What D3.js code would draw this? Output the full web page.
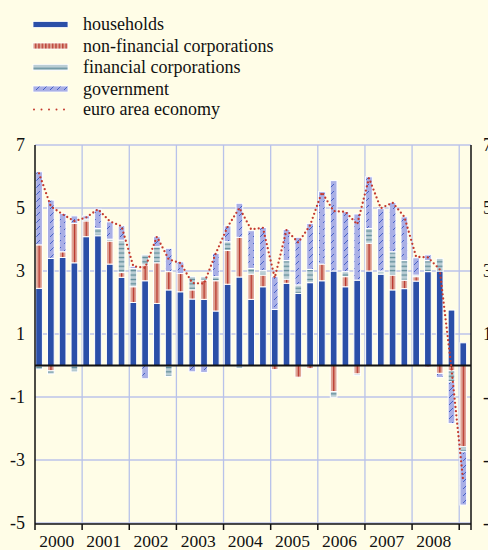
<!DOCTYPE html>
<meta charset="utf-8">
<script src="https://d3js.org/d3.v7.min.js"></script>
<style>
  body { margin: 0; background: #fffde7; }
  text { font-family: "Liberation Serif", "Times New Roman", serif; fill: #111; }
</style>
<div id="chart"></div>
<script>
// categories
const years = ["2000", "2001", "2002", "2003", "2004", "2005", "2006", "2007", "2008"];
const quarters = years.flatMap(yr => ["Q1", "Q2", "Q3", "Q4"].map(q => yr + q)).concat(["2009Q1"]);

// contributions, percentage points
const households   = [2.45, 3.40, 3.43, 3.26, 4.09, 4.12, 3.22, 2.80, 2.00, 2.69, 1.97, 2.40, 2.34,
                      2.11, 2.10, 1.73, 2.58, 2.81, 2.10, 2.50, 1.78, 2.61, 2.29, 2.63, 2.69,
                      3.00, 2.50, 2.71, 3.00, 2.90, 2.40, 2.44, 2.68, 2.98, 3.00, 1.76, 0.72];
const nonFinancial = [1.38, -0.17, 0.18, 1.25, 0.50, 0.00, 0.73, 0.15, 0.50, 0.50, 1.29, 0.58, 0.58,
                      0.29, 0.61, 0.96, 1.07, 1.26, 0.80, 0.37, -0.13, 0.13, -0.37, -0.10, 0.53,
                      -0.83, 0.32, -0.27, 0.88, 0.00, 0.47, 0.27, 0.14, -0.05, -0.25, -0.17, -2.58];
const financial    = [-0.12, -0.10, -0.03, -0.20, 0.06, 0.23, 0.06, 1.03, 0.58, 0.32, 0.51, -0.35, 0.00,
                      0.42, 0.11, 0.13, 0.28, -0.08, 0.18, 0.14, 0.00, 0.59, 0.27, 0.42, 0.00,
                      -0.18, 0.16, -0.05, 0.47, 0.10, 0.74, 0.62, 0.05, 0.35, 0.40, -0.35, -0.16];
const government   = [2.32, 1.85, 1.22, 0.24, 0.10, 0.61, 0.55, 0.45, 0.07, -0.42, 0.32, 0.74, 0.37,
                      -0.20, -0.22, 0.74, 0.50, 1.08, 1.20, 1.37, 1.04, 0.99, 1.51, 1.46, 2.30,
                      2.87, 1.90, 2.10, 1.64, 1.98, 1.57, 1.39, 0.55, 0.18, -0.13, -1.32, -1.69];
const euroArea     = [6.10, 5.05, 4.80, 4.58, 4.70, 4.96, 4.58, 4.42, 3.15, 3.10, 4.09, 3.37, 3.25,
                      2.62, 2.60, 3.56, 4.40, 5.00, 4.32, 4.37, 2.78, 4.30, 3.90, 4.45, 5.50,
                      4.90, 4.88, 4.48, 5.95, 4.99, 5.17, 4.72, 3.45, 3.43, 3.05, -0.10, -3.70];

const yTicks = [-5, -3, -1, 1, 3, 5, 7];
const keys = ["households", "nonFinancial", "financial", "government"];
const legendLabels = ["households", "non-financial corporations", "financial corporations",
                      "government", "euro area economy"];

const W = 488, H = 550;
const svg = d3.select("#chart").append("svg").attr("width", W).attr("height", H);
svg.append("rect").attr("width", W).attr("height", H).attr("fill", "#fffde7");

// fills
const defs = svg.append("defs");
const nfcBar = defs.append("pattern").attr("id", "nfcBar")
  .attr("patternUnits", "objectBoundingBox").attr("patternContentUnits", "objectBoundingBox")
  .attr("width", 1).attr("height", 1);
nfcBar.append("rect").attr("width", 1).attr("height", 1).attr("fill", "#dfa596");
nfcBar.append("rect").attr("x", 0.42).attr("width", 0.2).attr("height", 1).attr("fill", "#b8322a");

const nfcLeg = defs.append("pattern").attr("id", "nfcLeg").attr("patternUnits", "userSpaceOnUse")
  .attr("width", 3.4).attr("height", 10);
nfcLeg.append("rect").attr("width", 3.4).attr("height", 10).attr("fill", "#dfa596");
nfcLeg.append("rect").attr("x", 1).attr("width", 1.2).attr("height", 10).attr("fill", "#b8322a");

const fc = defs.append("pattern").attr("id", "fc").attr("patternUnits", "userSpaceOnUse")
  .attr("width", 10).attr("height", 4.4);
fc.append("rect").attr("width", 10).attr("height", 4.4).attr("fill", "#bccfd6");
fc.append("rect").attr("y", 1.6).attr("width", 10).attr("height", 1.3).attr("fill", "#5f8c98");

const gov = defs.append("pattern").attr("id", "gov").attr("patternUnits", "userSpaceOnUse")
  .attr("width", 7).attr("height", 7);
gov.append("rect").attr("width", 7).attr("height", 7).attr("fill", "#a9afe6");
gov.append("line").attr("x1", 1).attr("y1", 6).attr("x2", 5).attr("y2", 2)
  .attr("stroke", "#3b58c2").attr("stroke-width", 0.9);

const fills = {households: "#2b4fa8", nonFinancial: "url(#nfcBar)", financial: "url(#fc)", government: "url(#gov)"};
const legendFills = ["#2b4fa8", "url(#nfcLeg)", "url(#fc)", "url(#gov)"];

// scales
const x = d3.scaleLinear().domain([0, quarters.length]).range([35, 471]);
const y = d3.scaleLinear().domain([-5, 7]).range([523, 145]);
const barOff = 0.7, barW = 6.7;

// grid
svg.append("g").selectAll("line").data(yTicks).join("line")
  .attr("x1", x(0)).attr("x2", x(quarters.length))
  .attr("y1", d => y(d)).attr("y2", d => y(d))
  .attr("stroke", "#bcc3ea").attr("stroke-width", 1.3);
svg.append("g").selectAll("line").data(d3.range(1, years.length + 1)).join("line")
  .attr("x1", d => x(d * 4)).attr("x2", d => x(d * 4))
  .attr("y1", y(7)).attr("y2", y(-5))
  .attr("stroke", "#b8c2ea").attr("stroke-width", 1.3);

// stacked bars
const rows = quarters.map((q, i) => ({q, i,
  households: households[i], nonFinancial: nonFinancial[i],
  financial: financial[i], government: government[i]}));
const stack = d3.stack().keys(keys).offset(d3.stackOffsetDiverging)(rows);

svg.append("g").selectAll("g").data(stack).join("g")
  .attr("fill", s => fills[s.key])
  .selectAll("rect").data(s => s.filter(d => Math.abs(d[1] - d[0]) > 0.001)).join("rect")
    .attr("x", d => x(d.data.i) + barOff)
    .attr("width", barW)
    .attr("y", d => y(Math.max(d[0], d[1])))
    .attr("height", d => Math.abs(y(d[0]) - y(d[1])))
    .attr("stroke", "#ffffff").attr("stroke-width", 1);

// zero line
svg.append("line").attr("x1", x(0)).attr("x2", x(quarters.length))
  .attr("y1", y(0)).attr("y2", y(0)).attr("stroke", "#111").attr("stroke-width", 1.8);

// euro area line
const line = d3.line().x((d, i) => x(i) + barOff + barW / 2).y(d => y(d));
svg.append("path").datum(euroArea).attr("d", line)
  .attr("fill", "none").attr("stroke", "#c43a2e").attr("stroke-width", 2.3)
  .attr("stroke-linecap", "round").attr("stroke-dasharray", "0 4.2");

// axes
svg.append("line").attr("x1", x(0)).attr("x2", x(0)).attr("y1", y(7)).attr("y2", y(-5) + 1)
  .attr("stroke", "#111").attr("stroke-width", 1.5);
svg.append("line").attr("x1", x(quarters.length)).attr("x2", x(quarters.length))
  .attr("y1", y(7)).attr("y2", y(-5) + 1).attr("stroke", "#111").attr("stroke-width", 1.5);
svg.append("g").selectAll("text").data(yTicks).join("text")
  .attr("x", 25).attr("y", d => y(d)).attr("dy", "0.35em")
  .attr("text-anchor", "end").attr("font-size", 18).text(d => d);
// right-hand labels run off the edge, as in the original
svg.append("g").selectAll("text").data(yTicks).join("text")
  .attr("x", 483).attr("y", d => y(d)).attr("dy", "0.35em")
  .attr("text-anchor", "start").attr("font-size", 18).text(d => d);

const axisY = y(-5) + 1;
svg.append("line").attr("x1", x(0)).attr("x2", x(quarters.length))
  .attr("y1", axisY).attr("y2", axisY).attr("stroke", "#111").attr("stroke-width", 1.5);
svg.append("g").selectAll("line").data(d3.range(0, years.length + 1).map(d => d * 4).concat([quarters.length]))
  .join("line")
  .attr("x1", d => x(d)).attr("x2", d => x(d))
  .attr("y1", axisY).attr("y2", axisY + 6)
  .attr("stroke", "#111").attr("stroke-width", 1.5);
svg.append("g").selectAll("text").data(years).join("text")
  .attr("x", (d, k) => (x(k * 4) + barOff + x(k * 4 + 3) + barOff + barW) / 2)
  .attr("y", 547).attr("text-anchor", "middle").attr("font-size", 17.5).text(d => d);

// legend
const legY = [24.5, 46, 67.5, 89, 109.5];
const leg = svg.append("g");
legendFills.forEach((f, k) => {
  leg.append("rect").attr("x", 33).attr("y", legY[k] - 3).attr("width", 35).attr("height", 6)
    .attr("fill", f).attr("stroke", "#ffffff").attr("stroke-width", 0.8);
});
leg.append("line").attr("x1", 34).attr("x2", 68).attr("y1", legY[4]).attr("y2", legY[4])
  .attr("stroke", "#c43a2e").attr("stroke-width", 2).attr("stroke-linecap", "round")
  .attr("stroke-dasharray", "0 7.5");
leg.selectAll("text").data(legendLabels).join("text")
  .attr("x", 83).attr("y", (d, k) => legY[k] + 5.5).attr("font-size", 18).text(d => d);
</script>
